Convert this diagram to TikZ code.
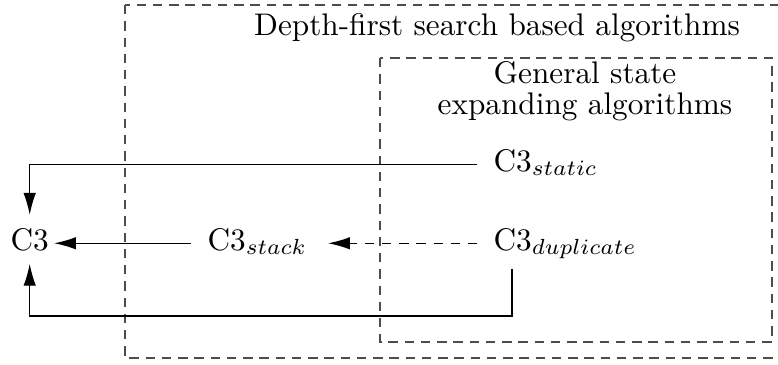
\documentclass[tikz,border=0pt]{standalone}
\usetikzlibrary{arrows.meta}

\tikzset{
  lbl/.style={inner xsep=5pt, inner ysep=3pt, anchor=base west},
  setbox/.style={draw=black!70, dash pattern=on 3pt off 2.2pt},
  conn/.style={-{Latex[length=7pt,width=4pt]}},
}

\begin{document}
\begin{tikzpicture}[x=0.32pt,y=0.32pt,yscale=-1,xscale=1]
\useasboundingbox (0,0) rectangle (778,364);

%Set boxes
\draw[setbox] (125,5) rectangle (790,358);
\draw[setbox] (380,58) rectangle (772,342);

%Set titles
\node (dfs) at (497,28) {Depth-first search based algorithms};
\node[align=center] (gen) at (585,91) {General state\\[-2pt] expanding algorithms};

%Conditions
\node[lbl, inner xsep=1.5pt, inner ysep=4pt] (c3) at (5.3,250) {C3};
\node[lbl] (stack) at (191.4,250) {C3$_{stack}$};
\node[lbl] (dup) at (477.4,250) {C3$_{duplicate}$};
\node[lbl] (static) at (477.4,171) {C3$_{static}$};
\coordinate (low) at (512,316);

%Implications
\draw[conn] (static.mid west) -| (c3.north);
\draw[conn] (stack.mid west) -- (c3.mid east);
\draw[conn, dash pattern=on 3pt off 2.5pt, shorten >=1.5pt] (dup.mid west) -- (stack.mid east);
\draw[conn] (dup.south -| low) -- (low) -| (c3.south);

\end{tikzpicture}
\end{document}
